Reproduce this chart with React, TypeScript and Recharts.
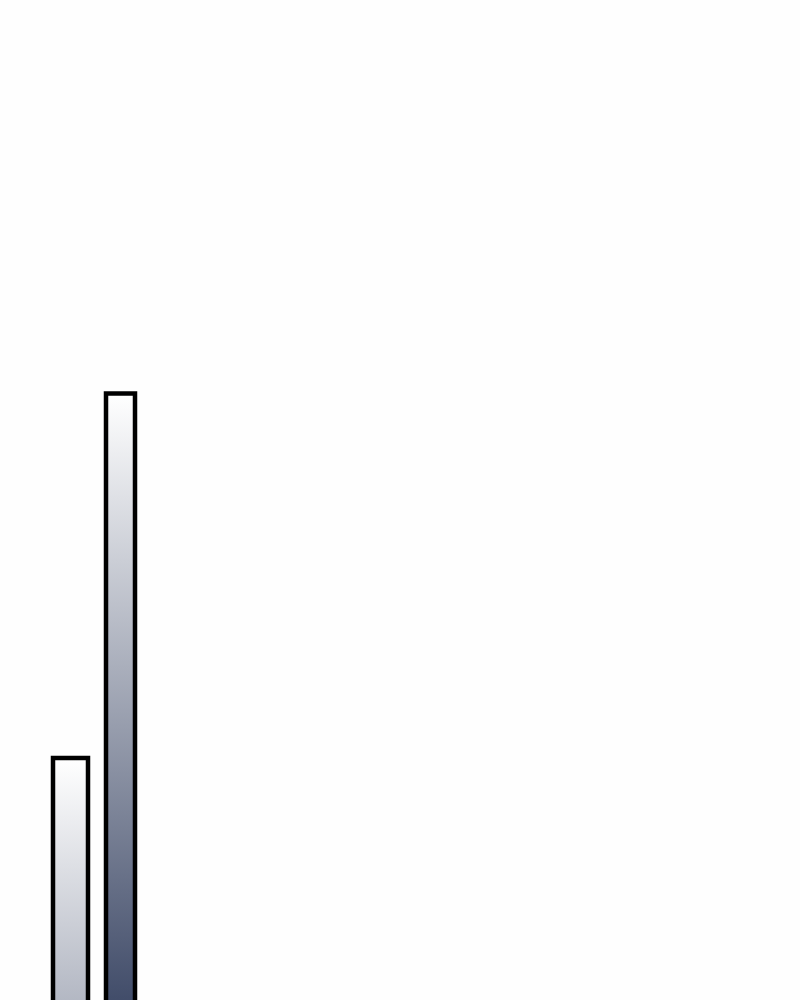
import React from "react";
import { BarChart, Bar, XAxis, YAxis } from "recharts";

const categories = ["A"];
const seriesFirst = [34.2];
const seriesSecond = [70.65];

const data = categories.map((c, i) => ({ name: c, first: seriesFirst[i], second: seriesSecond[i] }));

const GradientBar = (props: any) => {
  const { x, y, width, height, index, gid } = props;
  if (width == null || height == null) return null;
  const id = `grad-${gid}-${index}`;
  return (
    <g>
      <defs>
        <linearGradient id={id} gradientUnits="userSpaceOnUse" x1={0} y1={y} x2={0} y2={y + 650}>
          <stop offset="0%" stopColor="#ffffff" />
          <stop offset="100%" stopColor="#34405f" />
        </linearGradient>
      </defs>
      <rect x={x} y={y} width={width} height={height} fill={`url(#${id})`} stroke="#000000" strokeWidth={4.5} />
    </g>
  );
};

export default function App() {
  return (
    <div style={{ position: "fixed", top: 0, left: 0, width: 800, height: 1000, overflow: "hidden", background: "#fefefe" }}>
      <BarChart width={188} height={1100} data={data} margin={{ top: 0, right: 0, bottom: 0, left: 0 }} barGap={18}>
        <XAxis dataKey="name" hide />
        <YAxis hide domain={[0, 110]} />
        <Bar dataKey="first" barSize={35} isAnimationActive={false} shape={(p: any) => <GradientBar {...p} gid="a" />} />
        <Bar dataKey="second" barSize={29} isAnimationActive={false} shape={(p: any) => <GradientBar {...p} gid="b" />} />
      </BarChart>
    </div>
  );
}
